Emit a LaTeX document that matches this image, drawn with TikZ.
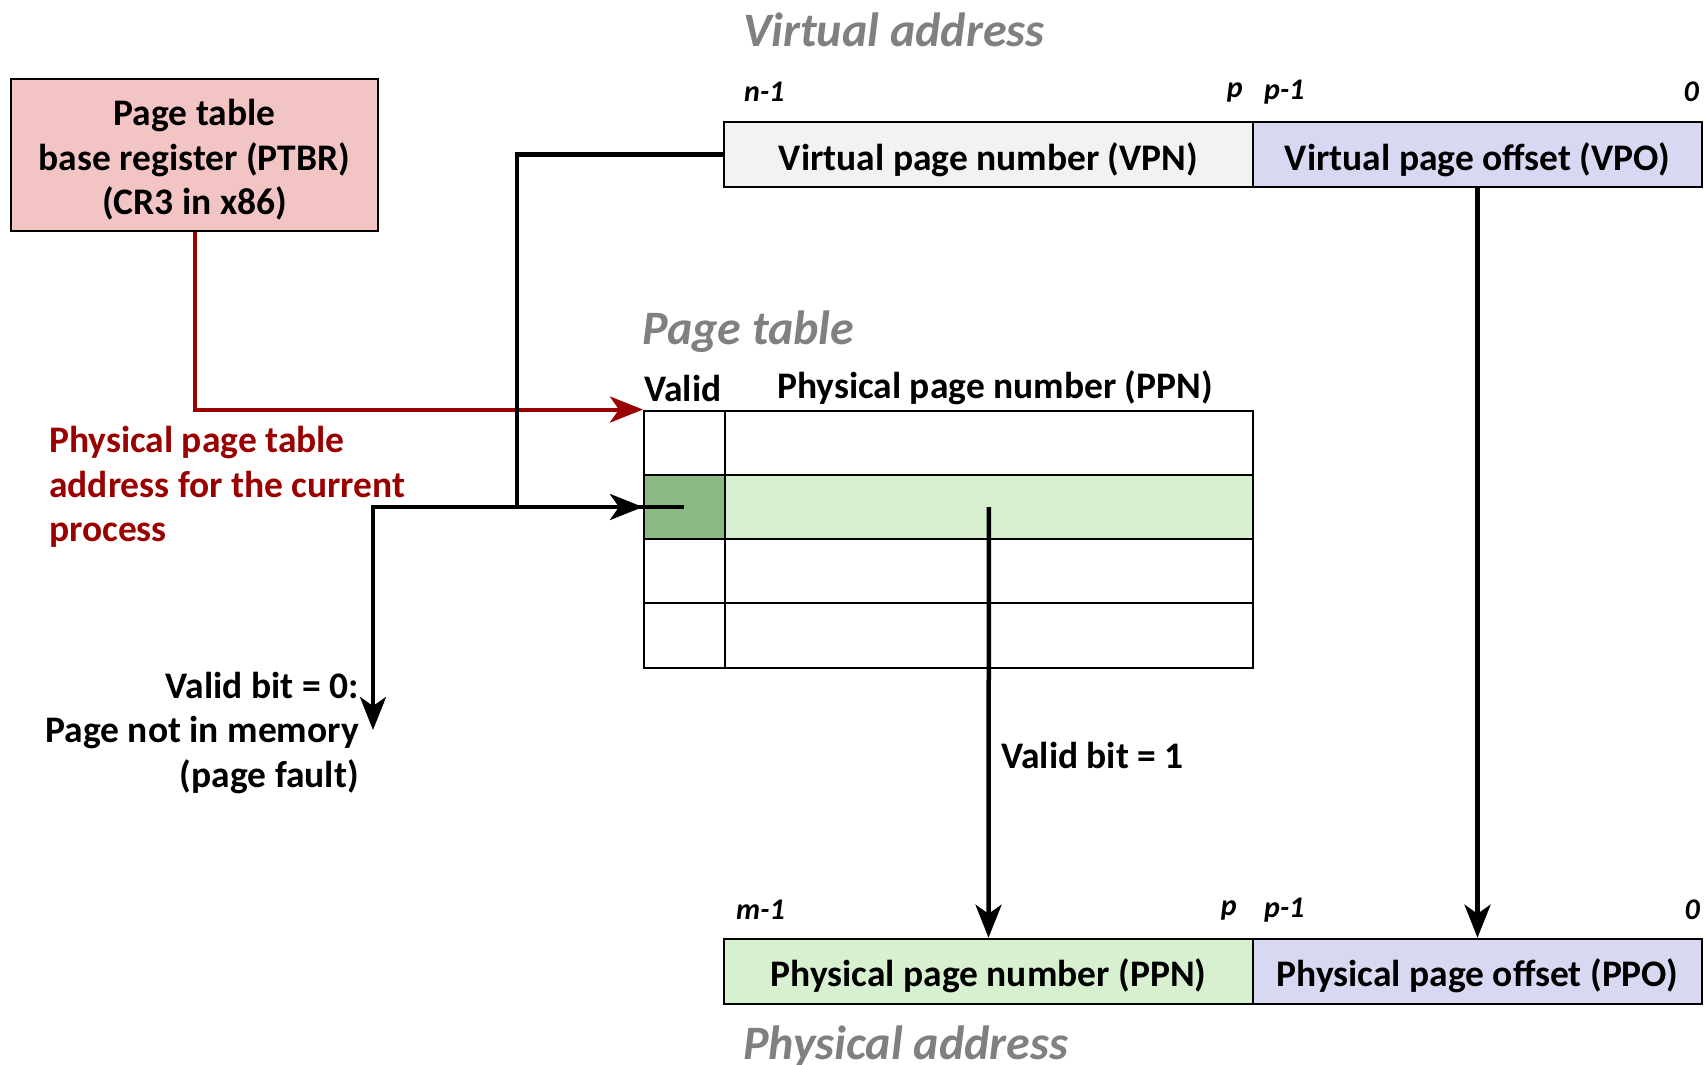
\documentclass[tikz,border=0pt]{standalone}
\usepackage{fontspec}
\setmainfont{Carlito}
\usetikzlibrary{arrows.meta}
\definecolor{ptbrfill}{RGB}{242,196,196}
\definecolor{vpnfill}{RGB}{242,242,242}
\definecolor{offfill}{RGB}{216,216,242}
\definecolor{greenfill}{RGB}{215,240,208}
\definecolor{validgreen}{RGB}{141,186,130}
\definecolor{darkred}{RGB}{155,0,0}
\definecolor{titlegray}{RGB}{128,128,128}
\newcommand\myfs[2]{\fontsize{#1}{#2}\selectfont}
\begin{document}
\begin{tikzpicture}[x=1pt,y=-1pt,
  box/.style={draw=black, line width=2.5pt, inner sep=0pt},
  cell/.style={draw=black, line width=2pt, inner sep=0pt, minimum height=64.3pt},
  title/.style={inner sep=0pt, text=titlegray, font=\myfs{48}{56}\bfseries\itshape},
  bitlbl/.style={inner sep=0pt, font=\myfs{30}{34}\bfseries\itshape},
  lbl/.style={inner sep=0pt, font=\myfs{37.5}{44.5}\bfseries},
  conn/.style={line width=4.5pt, -{Stealth[length=33pt,width=26pt,inset=9pt]}},
  rconn/.style={line width=4pt, draw=darkred, -{Stealth[length=33pt,width=26pt,inset=9pt,fill=darkred]}}
]
\useasboundingbox[fill=white] (0,0) rectangle (1706,1065);

% PTBR
\node[box, fill=ptbrfill, minimum width=367pt, minimum height=152pt] (ptbr) at (194.5,155) {};
\node[lbl, align=center] (ptbrtext) at (194.5,160) {Page table\\base register (PTBR)\\(CR3 in x86)};

% virtual address
\node[title, anchor=west] (vatitle) at (743,30) {Virtual address};
\node[box, fill=vpnfill, minimum width=529pt, minimum height=65pt] (vpn) at (988.5,154.5) {};
\node[box, fill=offfill, minimum width=449pt, minimum height=65pt] (vpo) at (1477.5,154.5) {};
\node[lbl] (vpntext) at (988.5,159.5) {Virtual page number (VPN)};
\node[lbl] (vpotext) at (1477.5,159.5) {Virtual page offset (VPO)};
\node[bitlbl, anchor=west] (vn1) at (744,92) {n-1};
\node[bitlbl, anchor=east] (vp) at (1243,92) {p};
\node[bitlbl, anchor=west] (vp1) at (1264,92) {p-1};
\node[bitlbl, anchor=east] (v0) at (1699,92) {0};

% page table
\node[title, anchor=west] (pttitle) at (642,332) {Page table};
\node[lbl, anchor=west] (validhdr) at (644,388) {Valid};
\node[lbl] (ppnhdr) at (995,388) {Physical page number (PPN)};
\node[cell, minimum width=80.7pt] (v1) at (684.3,442.7) {};
\node[cell, minimum width=528.3pt] (e1) at (988.9,442.7) {};
\node[cell, minimum width=80.7pt, fill=validgreen] (v2) at (684.3,507) {};
\node[cell, minimum width=528.3pt, fill=greenfill] (e2) at (988.9,507) {};
\node[cell, minimum width=80.7pt] (v3) at (684.3,571.3) {};
\node[cell, minimum width=528.3pt] (e3) at (988.9,571.3) {};
\node[cell, minimum width=80.7pt] (v4) at (684.3,635.6) {};
\node[cell, minimum width=528.3pt] (e4) at (988.9,635.6) {};

% physical address
\node[box, fill=greenfill, minimum width=529pt, minimum height=65pt] (ppn) at (988.5,971.5) {};
\node[box, fill=offfill, minimum width=449pt, minimum height=65pt] (ppo) at (1477.5,971.5) {};
\node[lbl] (ppntext) at (988.5,976) {Physical page number (PPN)};
\node[lbl] (ppotext) at (1477.5,976) {Physical page offset (PPO)};
\node[bitlbl, anchor=west] (pm1) at (736,910) {m-1};
\node[bitlbl, anchor=east] (pp) at (1237,910) {p};
\node[bitlbl, anchor=west] (pp1) at (1264,910) {p-1};
\node[bitlbl, anchor=east] (p0) at (1700,910) {0};
\node[title, anchor=west] (patitle) at (743,1046) {Physical address};

% labels
\node[lbl, anchor=west, align=left, text=darkred] (pptlbl) at (49,487) {Physical page table\\address for the current\\process};
\node[lbl, anchor=east, align=right] (faultlbl) at (359,733) {Valid bit = 0:\\Page not in memory\\(page fault)};
\node[lbl, anchor=west] (v1lbl) at (1001,755) {Valid bit = 1};

% connectors
\coordinate (fault) at (373,730);
\draw[rconn] (ptbr.south) |- (v1.north west);
\draw[conn] (vpn.west) -- ++(-206,0) |- (v2.west);
\draw[conn] (v2.center) -| (fault);
\draw[conn] (e2.center) -- (ppn.north);
\draw[conn] (vpo.south) -- (ppo.north);
\end{tikzpicture}
\end{document}
